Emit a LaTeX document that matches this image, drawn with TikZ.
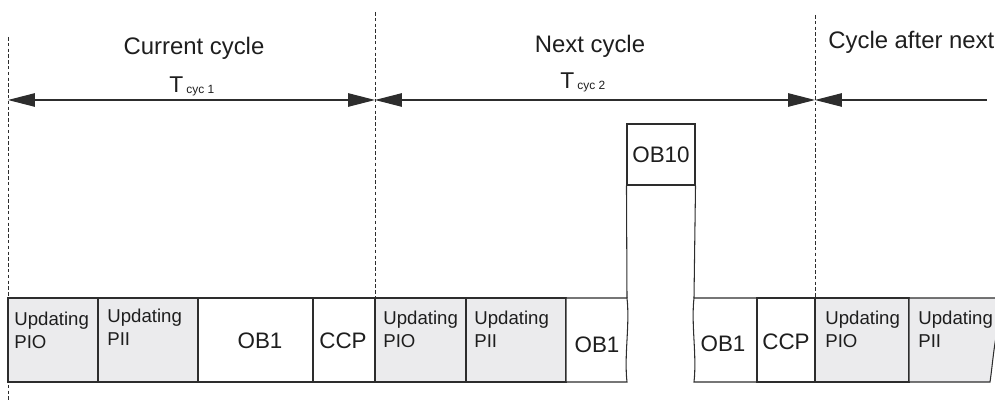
\documentclass[tikz,border=0pt]{standalone}
\usepackage{fontspec}
\setmainfont{Liberation Sans}
\usetikzlibrary{arrows.meta}
\definecolor{boxgray}{RGB}{235,235,237}
\definecolor{linegray}{RGB}{45,45,45}
\definecolor{textgray}{RGB}{30,30,30}
\newcommand{\tcycle}[1]{{\fontsize{13}{14}\selectfont T}\hspace{1.8pt}\raisebox{-0.4pt}{\fontsize{6.8}{7}\selectfont cyc #1}}

\begin{document}
\begin{tikzpicture}[x=0.02cm, y=-0.02cm,
  box/.style={draw=linegray, line width=0.6pt, fill=white},
  graybox/.style={box, fill=boxgray},
  updtext/.style={anchor=north west, align=left, inner sep=0pt, text=textgray,
    font=\fontsize{10.6}{13}\selectfont},
  obtext/.style={inner sep=0pt, text=textgray, font=\fontsize{12.75}{14}\selectfont},
  headtext/.style={anchor=base, inner sep=0pt, text=textgray, font=\fontsize{13.6}{16}\selectfont},
  tcyc/.style={anchor=base west, inner sep=0pt, text=textgray},
  cycborder/.style={draw=linegray, line width=0.5pt, dash pattern=on 2pt off 1.3pt},
  dimline/.style={draw=linegray, line width=0.6pt},
  >={Triangle[length=0.54cm, width=0.27cm]}]
\useasboundingbox (0,0) rectangle (995,401);
\clip (0,0) rectangle (995,401);

% Cycle borders
\draw[cycborder] (8,37) -- (8,401);
\draw[cycborder] (375,12) -- (375,298);
\draw[cycborder] (815,15) -- (815,298);

% Cycle times
\coordinate (c0) at (8,100);
\coordinate (c1) at (375,100);
\coordinate (c2) at (815,100);
\coordinate (c3) at (987,100);
\draw[dimline, <->] (c0) -- (c1);
\draw[dimline, <->] (c1) -- (c2);
\draw[dimline, <-] (c2) -- (c3);

% Annotations
\node[headtext] (cur) at (194,55) {Current cycle};
\node[headtext] (next) at (590,53) {Next cycle};
\node[headtext, anchor=base west] (after) at (828,49) {Cycle after next};
\node[tcyc] (t1) at (169,93) {\tcycle{1}};
\node[tcyc] (t2) at (560,89) {\tcycle{2}};

% Current cycle
\draw[graybox] (8,298) rectangle (98,382);
\draw[graybox] (98,298) rectangle (198,382);
\draw[box] (198,298) rectangle (313,382);
\draw[box] (313,298) rectangle (375,382);
\node[updtext] (pio1) at (14,312) {Updating\\PIO};
\node[updtext] (pii1) at (107,309) {Updating\\PII};
\node[obtext] (ob1a) at (260,341) {OB1};
\node[obtext] (ccp1) at (343,341) {CCP};

% Next cycle, interrupted by OB10
\draw[graybox] (375,298) rectangle (466,382);
\draw[graybox] (466,298) rectangle (566,382);
\draw[box] (566,298) -- (627,298) .. controls (630,325) and (624,355) .. (627,382) -- (566,382) -- cycle;
\draw[box] (757,298) -- (694,298) .. controls (691,325) and (697,355) .. (694,382) -- (757,382) -- cycle;
\draw[box] (757,298) rectangle (815,382);
\node[updtext] (pio2) at (383,311) {Updating\\PIO};
\node[updtext] (pii2) at (474,311) {Updating\\PII};
\node[obtext] (ob1b) at (597,345) {OB1};
\node[obtext] (ob1c) at (723,344) {OB1};
\node[obtext] (ccp2) at (786,342) {CCP};

% OB10
\node[box, minimum width=1.36cm, minimum height=1.22cm, inner sep=0pt] (ob10box) at (661,154.5) {};
\node[obtext] (ob10) at (661,155) {OB10};
\draw[linegray, line width=0.6pt] (ob10box.south west) -- (627,298);
\draw[linegray, line width=0.6pt] (ob10box.south east) -- (694,298);

% Cycle after next
\draw[graybox] (815,298) rectangle (909,382);
\draw[graybox] (909,298) -- (1000,298) -- (1000,320) .. controls (994,340) and (993,362) .. (990,382) -- (909,382) -- cycle;
\node[updtext] (pio3) at (825,311) {Updating\\PIO};
\node[updtext] (pii3) at (918,311) {Updating\\PII};
\end{tikzpicture}
\end{document}
